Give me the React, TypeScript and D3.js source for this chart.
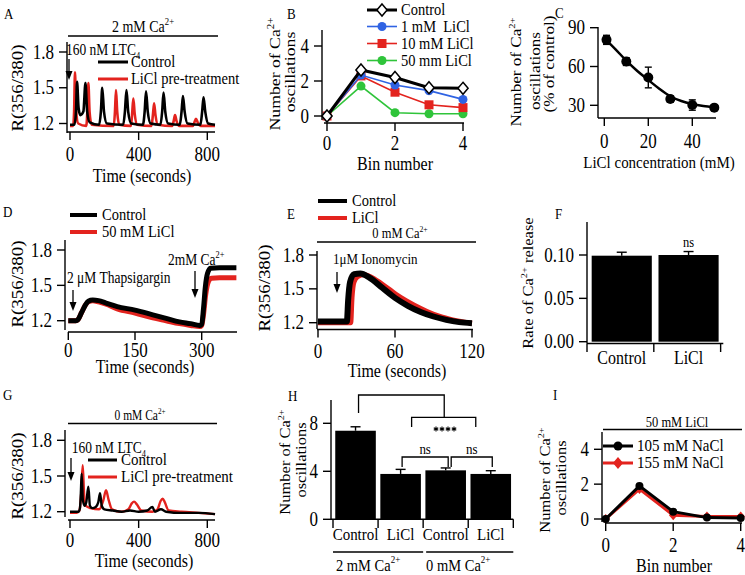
import React from "react";
import * as d3 from "d3";

type P = [number, number];

const FONT = "Liberation Serif";
const SY = 1.18; // the reference text is drawn a bit taller than wide
const RED = "#e3231e";
const BLUE = "#2f63e3";
const GREEN = "#2fc43a";

// ---- A: oscillations, 2 mM Ca (time s, ratio)
const aControl: P[] = [
  [0, 1.19], [26, 1.19], [35, 1.3], [41, 1.55], [50, 1.33], [60, 1.27], [78, 1.3], [90, 1.54], [100, 1.3],
  [115, 1.21], [170, 1.19], [180, 1.3], [188, 1.5], [198, 1.3], [215, 1.2], [310, 1.19], [320, 1.3], [329, 1.48],
  [339, 1.3], [357, 1.2], [425, 1.19], [435, 1.3], [443, 1.47], [453, 1.3], [470, 1.2], [527, 1.19], [537, 1.3],
  [545, 1.46], [555, 1.3], [572, 1.2], [640, 1.19], [650, 1.3], [658, 1.43], [668, 1.3], [685, 1.2], [760, 1.19],
  [770, 1.3], [778, 1.42], [788, 1.3], [805, 1.2], [845, 1.19],
];
const aLiCl: P[] = [
  [0, 1.18], [18, 1.18], [24, 1.3], [29, 1.63], [36, 1.3], [48, 1.2], [95, 1.18], [101, 1.3], [107, 1.54],
  [114, 1.3], [126, 1.19], [255, 1.18], [262, 1.3], [268, 1.48], [275, 1.3], [287, 1.19], [355, 1.18], [362, 1.28],
  [369, 1.41], [377, 1.28], [392, 1.19], [475, 1.18], [483, 1.27], [490, 1.37], [498, 1.27], [512, 1.19],
  [595, 1.18], [604, 1.22], [612, 1.27], [621, 1.22], [635, 1.18], [715, 1.18], [725, 1.21], [734, 1.24],
  [744, 1.21], [760, 1.18], [845, 1.18],
];

// ---- B: oscillations per bin
const bins = [0, 1, 2, 3, 4];
const bControl = [0, 2.63, 2.2, 1.62, 1.58];
const bControlErr = [0, 0.08, 0.08, 0.1, 0.1];
const bLi1 = [0, 2.34, 1.77, 1.45, 0.95];
const bLi1Err = [0, 0.1, 0.1, 0.18, 0.15];
const bLi10 = [0, 2.29, 1.36, 0.64, 0.48];
const bLi10Err = [0, 0.08, 0.08, 0.06, 0.06];
const bLi50 = [0, 1.71, 0.19, 0.13, 0.13];
const bLi50Err = [0, 0.06, 0.05, 0.04, 0.04];

// ---- C: dose response
const cConc = [1, 10, 20, 30, 40, 50];
const cMean = [80.6, 63.8, 51.5, 34.9, 30.2, 28.2];
const cErr = [3.5, 3, 8, 2.5, 4, 2];
const cFit: P[] = [
  [0, 82], [5, 73.5], [10, 64.5], [15, 56.5], [20, 49.6], [25, 42.8], [30, 37], [35, 33.3], [40, 31], [45, 29.5], [50, 28.5],
];

// ---- D: thapsigargin
const dControl: P[] = [
  [0, 1.2], [17, 1.2], [22, 1.21], [30, 1.27], [38, 1.33], [45, 1.365], [55, 1.375], [68, 1.37], [85, 1.35],
  [110, 1.32], [150, 1.29], [190, 1.25], [220, 1.22], [250, 1.19], [275, 1.175], [296, 1.16], [300, 1.17],
  [304, 1.3], [308, 1.48], [313, 1.6], [320, 1.645], [340, 1.65], [378, 1.65],
];
const dLiCl: P[] = [
  [0, 1.2], [17, 1.2], [22, 1.21], [30, 1.27], [38, 1.33], [45, 1.36], [55, 1.37], [68, 1.36], [85, 1.34],
  [110, 1.3], [150, 1.265], [190, 1.225], [220, 1.2], [250, 1.175], [275, 1.16], [296, 1.15], [300, 1.16],
  [304, 1.25], [309, 1.42], [315, 1.53], [322, 1.56], [340, 1.565], [378, 1.565],
];

// ---- E: ionomycin
const eControl: P[] = [
  [0, 1.21], [22.5, 1.21], [23.5, 1.4], [25, 1.56], [28, 1.63], [33, 1.635], [40, 1.6], [50, 1.51], [60, 1.42],
  [70, 1.35], [80, 1.295], [90, 1.255], [100, 1.225], [110, 1.205], [120, 1.195],
];
const eLiCl: P[] = [
  [0, 1.2], [25.5, 1.2], [26.5, 1.42], [28, 1.56], [31, 1.61], [36, 1.625], [45, 1.58], [55, 1.5], [65, 1.42],
  [75, 1.355], [85, 1.3], [95, 1.255], [105, 1.225], [120, 1.195],
];

// ---- F: release rate
const fCats = ["Control", "LiCl"];
const fRate = [0.0992, 0.1];
const fErr = [0.004, 0.004];

// ---- G: oscillations, 0 mM Ca
const gControl: P[] = [
  [0, 1.2], [50, 1.2], [58, 1.23], [63, 1.35], [68, 1.52], [75, 1.3], [85, 1.25], [95, 1.28], [107, 1.41],
  [116, 1.25], [130, 1.23], [150, 1.24], [165, 1.28], [175, 1.355], [185, 1.25], [200, 1.22], [250, 1.21],
  [300, 1.2], [350, 1.21], [400, 1.2], [450, 1.21], [480, 1.24], [495, 1.2], [530, 1.22], [560, 1.2],
  [650, 1.19], [750, 1.19], [845, 1.18],
];
const gLiCl: P[] = [
  [0, 1.19], [40, 1.19], [55, 1.21], [65, 1.35], [74, 1.59], [82, 1.35], [92, 1.25], [120, 1.23], [170, 1.22],
  [195, 1.3], [210, 1.38], [225, 1.3], [245, 1.22], [300, 1.2], [340, 1.22], [360, 1.27], [373, 1.285],
  [390, 1.26], [415, 1.21], [480, 1.2], [510, 1.22], [528, 1.29], [540, 1.31], [552, 1.28], [575, 1.21],
  [650, 1.2], [750, 1.19], [845, 1.18],
];

// ---- H: summary bars
const hCats = ["Control", "LiCl", "Control", "LiCl"];
const hMean = [7.38, 3.78, 4.08, 3.78];
const hErr = [0.33, 0.38, 0.2, 0.27];
const hGroups = ["2 mM Ca", "0 mM Ca"];

// ---- I: NaCl controls
const i105 = [0, 1.9, 0.42, 0.08, 0.06];
const i155 = [0, 1.72, 0.22, 0.15, 0.15];

type TP = {
  x: number; y: number; text: string; sup?: string; sub?: string; after?: string;
  size?: number; anchor?: string; rot?: number; fill?: string;
};
const T = ({ x, y, text, sup, sub, after, size = 16, anchor = "start", rot = 0, fill = "#000" }: TP) => (
  <text
    transform={`translate(${x},${y}) scale(1,${SY}) rotate(${rot})`}
    fontSize={size}
    textAnchor={anchor}
    fill={fill}
    fontFamily={FONT}
    style={{ fontFamily: FONT }}
  >
    {text}
    {sup && <tspan dy={-size * 0.42} fontSize={size * 0.62}>{sup}</tspan>}
    {sub && <tspan dy={size * 0.22} fontSize={size * 0.62}>{sub}</tspan>}
    {after && <tspan dy={sup ? size * 0.42 : 0}>{after}</tspan>}
  </text>
);

const LeftAxis = ({ sc, x, top, bottom, ticks, fmt = (v: number) => String(v), size = 17 }: any) => (
  <g>
    <line x1={x} x2={x} y1={top} y2={bottom} stroke="#000" strokeWidth={1.4} />
    {ticks.map((v: number) => (
      <g key={v}>
        <line x1={x - 8} x2={x} y1={sc(v)} y2={sc(v)} stroke="#000" strokeWidth={1.4} />
        <T x={x - 13} y={sc(v) + size * 0.33 * SY} text={fmt(v)} size={size} anchor="end" />
      </g>
    ))}
  </g>
);

const BottomAxis = ({ sc, y, x0, x1, ticks, labelY, size = 17 }: any) => (
  <g>
    <line x1={x0} x2={x1} y1={y} y2={y} stroke="#000" strokeWidth={1.4} />
    {ticks.map((v: number) => (
      <g key={v}>
        <line x1={sc(v)} x2={sc(v)} y1={y} y2={y + 8} stroke="#000" strokeWidth={1.4} />
        <T x={sc(v)} y={labelY} text={String(v)} size={size} anchor="middle" />
      </g>
    ))}
  </g>
);

const Arrow = ({ x, y1, y2 }: { x: number; y1: number; y2: number }) => (
  <g>
    <line x1={x} x2={x} y1={y1} y2={y2 - 6} stroke="#000" strokeWidth={1.3} />
    <path d={`M${x - 3.5},${y2 - 9}L${x + 3.5},${y2 - 9}L${x},${y2}Z`} fill="#000" />
  </g>
);

const LegLine = ({ x0, x1, y, color, w = 3, label, tx, size = 14.5 }: any) => (
  <g>
    <line x1={x0} x2={x1} y1={y} y2={y} stroke={color} strokeWidth={w} />
    <T x={tx} y={y + 5} text={label} size={size} />
  </g>
);

const smooth = (pts: P[], sx: any, sy: any) =>
  d3.line<P>().x(d => sx(d[0])).y(d => sy(d[1])).curve(d3.curveMonotoneX)(pts) as string;
const straight = (xs: number[], ys: number[], sx: any, sy: any) =>
  d3.line<number>().x((_, i) => sx(xs[i])).y(d => sy(d))(ys) as string;

const diamond = (x: number, y: number, r = 6) => `M${x},${y - r}L${x + r * 0.85},${y}L${x},${y + r}L${x - r * 0.85},${y}Z`;

// six-armed star used for the significance marks
const star = (x: number, y: number, r = 3) =>
  [0, 60, 120].map(a => {
    const rad = (a * Math.PI) / 180;
    return `M${x - r * Math.sin(rad)},${y - r * Math.cos(rad)}L${x + r * Math.sin(rad)},${y + r * Math.cos(rad)}`;
  }).join("");

type Mk = "diamond" | "circle" | "square";
const Marker = ({ x, y, kind, color, fill }: { x: number; y: number; kind: Mk; color: string; fill?: string }) => {
  if (kind === "diamond") return <path d={diamond(x, y)} fill={fill || color} stroke={color} strokeWidth={1.5} />;
  if (kind === "square") return <rect x={x - 4.5} y={y - 4.5} width={9} height={9} fill={color} />;
  return <circle cx={x} cy={y} r={4.5} fill={color} />;
};

const ErrV = ({ x, y0, y1, cap = 6, color = "#000", w = 1.4 }: any) => (
  <g stroke={color} strokeWidth={w}>
    <line x1={x} x2={x} y1={y0} y2={y1} />
    <line x1={x - cap / 2} x2={x + cap / 2} y1={y0} y2={y0} />
    <line x1={x - cap / 2} x2={x + cap / 2} y1={y1} y2={y1} />
  </g>
);

const PanelA = () => {
  const sx = d3.scaleLinear().domain([0, 800]).range([70, 207.3]);
  const sy = d3.scaleLinear().domain([1.2, 1.8]).range([123.5, 52]);
  return (
    <g>
      <T x={4} y={19} text="A" size={13} />
      <line x1={68} x2={218} y1={36} y2={36} stroke="#000" strokeWidth={1.4} />
      <T x={143} y={32} text="2 mM Ca" sup="2+" size={14} anchor="middle" />
      <path d={smooth(aLiCl, sx, sy)} fill="none" stroke={RED} strokeWidth={2.6} />
      <path d={smooth(aControl, sx, sy)} fill="none" stroke="#000" strokeWidth={2.6} />
      <LeftAxis sc={sy} x={67} top={42} bottom={133} ticks={[1.2, 1.5, 1.8]} />
      <BottomAxis sc={sx} y={132} x0={67} x1={215} ticks={[0, 400, 800]} labelY={161} />
      <T x={142} y={182} text="Time (seconds)" anchor="middle" />
      <T x={23} y={88} text="R(356/380)" anchor="middle" rot={-90} />
      <LegLine x0={98} x1={128} y={62} color="#000" label="Control" tx={131} />
      <LegLine x0={98} x1={128} y={79} color={RED} label="LiCl pre-treatment" tx={131} />
      <T x={66} y={55} text="160 nM LTC" sub="4" size={13.5} />
      <Arrow x={69} y1={59} y2={80} />
    </g>
  );
};

const PanelB = () => {
  const sx = d3.scaleLinear().domain([0, 4]).range([327, 463]);
  const sy = d3.scaleLinear().domain([0, 4]).range([116, 46]);
  const series = [
    { v: bLi50, e: bLi50Err, c: GREEN, k: "circle" as Mk, w: 1.6 },
    { v: bLi10, e: bLi10Err, c: RED, k: "square" as Mk, w: 1.6 },
    { v: bLi1, e: bLi1Err, c: BLUE, k: "circle" as Mk, w: 1.6 },
    { v: bControl, e: bControlErr, c: "#000", k: "diamond" as Mk, w: 3 },
  ];
  const legend = [
    { label: "Control", c: "#000", k: "diamond" as Mk, w: 3 },
    { label: "1 mM\u00a0 LiCl", c: BLUE, k: "circle" as Mk, w: 1.6 },
    { label: "10 mM LiCl", c: RED, k: "square" as Mk, w: 1.6 },
    { label: "50 mm LiCl", c: GREEN, k: "circle" as Mk, w: 1.6 },
  ];
  const ly = [10, 26.5, 43.5, 60.5];
  return (
    <g>
      <T x={287} y={19} text="B" size={13} />
      {series.map((s, j) => (
        <g key={j}>
          <path d={straight(bins, s.v, sx, sy)} fill="none" stroke={s.c} strokeWidth={s.w} />
          {s.v.map((v, i) => s.e[i] > 0 && (
            <ErrV key={i} x={sx(bins[i])} y0={sy(v + s.e[i])} y1={sy(v - s.e[i])} color={s.c} cap={5} />
          ))}
          {s.v.map((v, i) => (
            <Marker key={"m" + i} x={sx(bins[i])} y={sy(v)} kind={s.k} color={s.c} fill={s.k === "diamond" ? "#fff" : undefined} />
          ))}
        </g>
      ))}
      <LeftAxis sc={sy} x={322} top={30} bottom={120} ticks={[0, 2, 4]} />
      <BottomAxis sc={sx} y={123} x0={324} x1={464} ticks={[0, 2, 4]} labelY={150} />
      <T x={395} y={170} text="Bin number" anchor="middle" />
      <T x={280} y={74} text="Number of Ca" sup="2+" size={15} anchor="middle" rot={-90} />
      <T x={295} y={72} text="oscillations" size={15} anchor="middle" rot={-90} />
      {legend.map((l, i) => (
        <g key={l.label}>
          <line x1={367} x2={397} y1={ly[i]} y2={ly[i]} stroke={l.c} strokeWidth={l.w} />
          <Marker x={382} y={ly[i]} kind={l.k} color={l.c} fill={l.k === "diamond" ? "#fff" : undefined} />
          <T x={401} y={ly[i] + 5} text={l.label} size={14.5} />
        </g>
      ))}
    </g>
  );
};

const PanelC = () => {
  const sx = d3.scaleLinear().domain([0, 50]).range([604.3, 714.3]);
  const sy = d3.scaleLinear().domain([30, 90]).range([105.3, 27.7]);
  return (
    <g>
      <T x={555} y={18} text="C" size={13} />
      <path d={smooth(cFit, sx, sy)} fill="none" stroke="#000" strokeWidth={2.5} />
      {cConc.map((c, i) => (
        <g key={c}>
          <ErrV x={sx(c)} y0={sy(cMean[i] + cErr[i])} y1={sy(cMean[i] - cErr[i])} cap={7} />
          <circle cx={sx(c)} cy={sy(cMean[i])} r={5} fill="#000" />
        </g>
      ))}
      <LeftAxis sc={sy} x={598} top={27} bottom={118} ticks={[30, 60, 90]} />
      <BottomAxis sc={sx} y={118} x0={598} x1={716} ticks={[0, 20, 40]} labelY={148} />
      <T x={659} y={168} text="LiCl concentration (mM)" size={15} anchor="middle" />
      <T x={521} y={72} text="Number of Ca" sup="2+" size={14.5} anchor="middle" rot={-90} />
      <T x={540} y={71} text="oscillations" size={14.5} anchor="middle" rot={-90} />
      <T x={554} y={64} text="(% of control)" size={14.5} anchor="middle" rot={-90} />
    </g>
  );
};

const PanelD = () => {
  const sx = d3.scaleLinear().domain([0, 300]).range([68.3, 201.7]);
  const sy = d3.scaleLinear().domain([1.2, 1.8]).range([320.7, 250]);
  return (
    <g>
      <T x={3} y={217} text="D" size={13} />
      <path d={smooth(dLiCl, sx, sy)} fill="none" stroke={RED} strokeWidth={5} />
      <path d={smooth(dControl, sx, sy)} fill="none" stroke="#000" strokeWidth={5} />
      <LeftAxis sc={sy} x={65} top={240} bottom={330} ticks={[1.2, 1.5, 1.8]} />
      <BottomAxis sc={sx} y={332} x0={68} x1={237} ticks={[0, 150, 300]} labelY={357} />
      <T x={145} y={373} text="Time (seconds)" anchor="middle" />
      <T x={23} y={284} text="R(356/380)" anchor="middle" rot={-90} />
      <LegLine x0={70} x1={97} y={215} color="#000" w={4} label="Control" tx={102} />
      <LegLine x0={70} x1={97} y={232} color={RED} w={4} label="50 mM LiCl" tx={102} />
      <T x={67} y={283} text="2 μM Thapsigargin" size={13.5} />
      <Arrow x={73} y1={290} y2={311} />
      <T x={168} y={265} text="2mM Ca" sup="2+" size={13.5} />
      <Arrow x={195} y1={271} y2={298} />
    </g>
  );
};

const PanelE = () => {
  const sx = d3.scaleLinear().domain([0, 120]).range([318, 472]);
  const sy = d3.scaleLinear().domain([1.2, 1.8]).range([322.7, 255]);
  return (
    <g>
      <T x={287} y={219} text="E" size={13} />
      <LegLine x0={318} x1={347} y={201} color="#000" w={4} label="Control" tx={352} />
      <LegLine x0={318} x1={347} y={218} color={RED} w={4} label="LiCl" tx={352} />
      <line x1={317} x2={476} y1={242} y2={242} stroke="#000" strokeWidth={1.4} />
      <T x={400} y={238} text="0 mM Ca" sup="2+" size={12.5} anchor="middle" />
      <path d={smooth(eLiCl, sx, sy)} fill="none" stroke={RED} strokeWidth={5} />
      <path d={smooth(eControl, sx, sy)} fill="none" stroke="#000" strokeWidth={6} />
      <LeftAxis sc={sy} x={317} top={251} bottom={329} ticks={[1.2, 1.5, 1.8]} />
      <BottomAxis sc={sx} y={329.5} x0={317} x1={473} ticks={[0, 60, 120]} labelY={358} />
      <T x={397} y={377} text="Time (seconds)" anchor="middle" />
      <T x={270} y={288} text="R(356/380)" anchor="middle" rot={-90} />
      <T x={333} y={264} text="1μM Ionomycin" size={13} />
      <Arrow x={337} y1={272} y2={293} />
    </g>
  );
};

const PanelF = () => {
  const sy = d3.scaleLinear().domain([0, 0.1]).range([341.7, 255]);
  const sb = d3.scaleBand().domain(fCats).range([587, 723.3]).paddingInner(0.1).paddingOuter(0.07);
  const step = sb.step();
  const r0 = 587;
  return (
    <g>
      <T x={555} y={219} text="F" size={13} />
      {fCats.map((c, i) => (
        <g key={c}>
          <rect x={sb(c)} y={sy(fRate[i])} width={sb.bandwidth()} height={sy(0) - sy(fRate[i])} fill="#000" />
          <line x1={sb(c)! + sb.bandwidth() / 2} x2={sb(c)! + sb.bandwidth() / 2} y1={sy(fRate[i])} y2={sy(fRate[i] + fErr[i])} stroke="#000" strokeWidth={1.4} />
          <line x1={sb(c)! + sb.bandwidth() / 2 - 5} x2={sb(c)! + sb.bandwidth() / 2 + 5} y1={sy(fRate[i] + fErr[i])} y2={sy(fRate[i] + fErr[i])} stroke="#000" strokeWidth={1.4} />
          <T x={sb(c)! + sb.bandwidth() / 2} y={364} text={c} size={16} anchor="middle" />
        </g>
      ))}
      <line x1={587} x2={723.3} y1={343.5} y2={343.5} stroke="#000" strokeWidth={1.4} />
      {[0, 1, 2].map(i => (
        <line key={i} x1={r0 + i * step} x2={r0 + i * step} y1={343.5} y2={352} stroke="#000" strokeWidth={1.4} />
      ))}
      <LeftAxis sc={sy} x={587} top={222} bottom={343.5} ticks={[0, 0.05, 0.1]} fmt={(v: number) => v.toFixed(2)} />
      <T x={sb("LiCl")! + sb.bandwidth() / 2} y={247} text="ns" size={12.5} anchor="middle" />
      <T x={533} y={283} text="Rate of Ca" sup="2+" after=" release" size={14} anchor="middle" rot={-90} />
    </g>
  );
};

const PanelG = () => {
  const sx = d3.scaleLinear().domain([0, 800]).range([70, 207.3]);
  const sy = d3.scaleLinear().domain([1.2, 1.8]).range([511.7, 440.3]);
  return (
    <g>
      <T x={3} y={400} text="G" size={13} />
      <line x1={68} x2={217} y1={423.5} y2={423.5} stroke="#000" strokeWidth={1.4} />
      <T x={140} y={420} text="0 mM Ca" sup="2+" size={11.5} anchor="middle" />
      <path d={smooth(gLiCl, sx, sy)} fill="none" stroke={RED} strokeWidth={2.4} />
      <path d={smooth(gControl, sx, sy)} fill="none" stroke="#000" strokeWidth={2.4} />
      <LeftAxis sc={sy} x={65} top={430} bottom={517} ticks={[1.2, 1.5, 1.8]} />
      <BottomAxis sc={sx} y={520} x0={68} x1={215} ticks={[0, 400, 800]} labelY={547} />
      <T x={144} y={567} text="Time (seconds)" anchor="middle" />
      <T x={23} y={476} text="R(356/380)" anchor="middle" rot={-90} />
      <T x={71.7} y={453} text="160 nM LTC" sub="4" size={13.5} />
      <Arrow x={71} y1={458} y2={481} />
      <LegLine x0={88} x1={117} y={460} color="#000" label="Control" tx={121} size={15} />
      <LegLine x0={88} x1={117} y={477} color={RED} label="LiCl pre-treatment" tx={121} size={15} />
    </g>
  );
};

const PanelH = () => {
  const sy = d3.scaleLinear().domain([0, 8]).range([519.3, 423.3]);
  const idx = hCats.map((_, i) => String(i));
  const sb = d3.scaleBand().domain(idx).range([333, 513.3]).paddingInner(0.1).paddingOuter(0.05);
  const step = sb.step();
  const cx = (i: number) => sb(String(i))! + sb.bandwidth() / 2;
  const br = (x1: number, x2: number, yTop: number, yLeg: number) => `M${x1},${yLeg}V${yTop}H${x2}V${yLeg}`;
  const midTop = (cx(2) + cx(3)) / 2 - 24;
  return (
    <g>
      <T x={288} y={401} text="H" size={13} />
      {hCats.map((c, i) => (
        <g key={i}>
          <rect x={sb(String(i))} y={sy(hMean[i])} width={sb.bandwidth()} height={sy(0) - sy(hMean[i])} fill="#000" />
          <line x1={cx(i)} x2={cx(i)} y1={sy(hMean[i])} y2={sy(hMean[i] + hErr[i])} stroke="#000" strokeWidth={1.4} />
          <line x1={cx(i) - 5} x2={cx(i) + 5} y1={sy(hMean[i] + hErr[i])} y2={sy(hMean[i] + hErr[i])} stroke="#000" strokeWidth={1.4} />
          <T x={cx(i)} y={540} text={c} size={15} anchor="middle" />
        </g>
      ))}
      <line x1={331} x2={513.3} y1={519.3} y2={519.3} stroke="#000" strokeWidth={1.4} />
      {[0, 1, 2, 3, 4].map(i => (
        <line key={i} x1={333 + i * step} x2={333 + i * step} y1={519.3} y2={528} stroke="#000" strokeWidth={1.4} />
      ))}
      <LeftAxis sc={sy} x={331} top={400} bottom={520} ticks={[0, 4, 8]} />
      <T x={290} y={462} text="Number of Ca" sup="2+" size={14} anchor="middle" rot={-90} />
      <T x={306} y={460} text="oscillations" size={14} anchor="middle" rot={-90} />
      {hGroups.map((g, k) => (
        <g key={g}>
          <line x1={333 + 2 * k * step + (k ? 3 : 0)} x2={333 + 2 * (k + 1) * step} y1={552} y2={552} stroke="#000" strokeWidth={1.4} />
          <T x={(cx(2 * k) + cx(2 * k + 1)) / 2 - 10} y={570.5} text={g} sup="2+" size={14.5} anchor="middle" />
        </g>
      ))}
      <path d={br(cx(0) + 3, midTop, 395, 413)} fill="none" stroke="#000" strokeWidth={1.3} />
      <line x1={midTop} x2={midTop} y1={413} y2={417.3} stroke="#000" strokeWidth={1.3} />
      <path d={br(cx(1) + 11, cx(3) - 15, 417.3, 427)} fill="none" stroke="#000" strokeWidth={1.3} />
      {[0, 1, 2, 3].map(k => (
        <path key={k} d={star(436 + k * 6, 429, 2.6)} stroke="#000" strokeWidth={1.1} fill="none" />
      ))}
      <path d={br(cx(1) + 1.5, cx(2) + 2.5, 457, 467)} fill="none" stroke="#000" strokeWidth={1.3} />
      <T x={(cx(1) + cx(2)) / 2 + 2} y={454} text="ns" size={13} anchor="middle" />
      <path d={br(cx(2) + 5.5, cx(3) + 1.5, 457, 467)} fill="none" stroke="#000" strokeWidth={1.3} />
      <T x={(cx(2) + cx(3)) / 2 + 3.5} y={454} text="ns" size={13} anchor="middle" />
    </g>
  );
};

const PanelI = () => {
  const sx = d3.scaleLinear().domain([0, 4]).range([605.7, 740.7]);
  const sy = d3.scaleLinear().domain([0, 4]).range([519, 449.3]);
  return (
    <g>
      <T x={553} y={400} text="I" size={13} />
      <line x1={603} x2={742} y1={429.5} y2={429.5} stroke="#000" strokeWidth={1.4} />
      <T x={677} y={426.5} text="50 mM LiCl" size={12.5} anchor="middle" />
      <path d={straight(bins, i155, sx, sy)} fill="none" stroke={RED} strokeWidth={3} />
      {i155.map((v, i) => <path key={i} d={diamond(sx(bins[i]), sy(v), 5)} fill={RED} />)}
      <path d={straight(bins, i105, sx, sy)} fill="none" stroke="#000" strokeWidth={3} />
      {i105.map((v, i) => <circle key={i} cx={sx(bins[i])} cy={sy(v)} r={4} fill="#000" />)}
      <LeftAxis sc={sy} x={602} top={432} bottom={522} ticks={[0, 2, 4]} />
      <BottomAxis sc={sx} y={523} x0={605} x1={742} ticks={[0, 2, 4]} labelY={552} />
      <T x={674} y={572} text="Bin number" anchor="middle" />
      <T x={550} y={480} text="Number of Ca" sup="2+" size={14} anchor="middle" rot={-90} />
      <T x={566} y={478} text="oscillations" size={14} anchor="middle" rot={-90} />
      <LegLine x0={603} x1={633} y={446} color="#000" label="105 mM NaCl" tx={637} size={15} />
      <circle cx={618} cy={446} r={4.5} fill="#000" />
      <LegLine x0={603} x1={633} y={463} color={RED} label="155 mM NaCl" tx={637} size={15} />
      <path d={diamond(618, 463, 6)} fill={RED} />
    </g>
  );
};

export default function App() {
  return (
    <svg
      width={745}
      height={575}
      style={{ position: "absolute", left: 0, top: 0, background: "#fff", fontFamily: FONT }}
    >
      <PanelA />
      <PanelB />
      <PanelC />
      <PanelD />
      <PanelE />
      <PanelF />
      <PanelG />
      <PanelH />
      <PanelI />
    </svg>
  );
}
